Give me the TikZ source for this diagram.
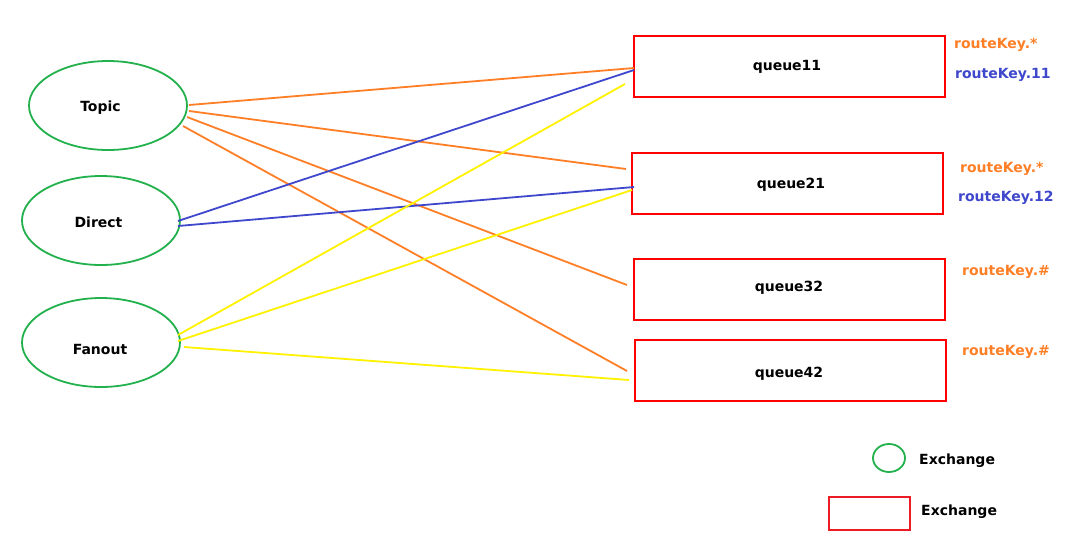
\documentclass[tikz,border=0pt]{standalone}
\usepackage{fontspec}
\setmainfont{DejaVu Sans}
\usetikzlibrary{shapes.geometric}
\definecolor{cgreen}{RGB}{34,177,76}
\definecolor{corange}{RGB}{255,127,39}
\definecolor{cblue}{RGB}{63,72,204}
\definecolor{cyellow}{RGB}{255,242,0}
\definecolor{cred}{RGB}{255,0,0}
\definecolor{cred2}{RGB}{237,28,36}
\begin{document}
\begin{tikzpicture}[x=1pt,y=-1pt,
  txt/.style={font=\bfseries\fontsize{14}{16}\selectfont,inner sep=0pt},
  exch/.style={ellipse,draw=cgreen,line width=1.8pt,minimum width=158pt,minimum height=89pt,inner sep=0pt},
  queue/.style={rectangle,draw=cred,line width=1.8pt,minimum width=311pt,minimum height=61pt,inner sep=0pt},
  key/.style={anchor=west,txt},
  link/.style={line width=1.8pt}]
\useasboundingbox[fill=white] (0,0) rectangle (1072,552);
% exchanges
\node[exch] (topic) at (108,105.5) {};
\node[exch] (direct) at (101,220.5) {};
\node[exch] (fanout) at (101,342.5) {};
\node[txt] (topict) at (100.5,108) {Topic};
\node[txt] (directt) at (98.5,222) {Direct};
\node[txt] (fanoutt) at (100,349) {Fanout};
% queues
\node[queue] (q11) at (789.5,66.5) {};
\node[queue] (q21) at (787.5,183.5) {};
\node[queue] (q32) at (789.5,289.5) {};
\node[queue] (q42) at (790.5,370.5) {};
\node[txt] (q11t) at (787,67) {queue11};
\node[txt] (q21t) at (791,185) {queue21};
\node[txt] (q32t) at (789,288) {queue32};
\node[txt] (q42t) at (789,374) {queue42};
% routing keys
\node[key,text=corange] (k1) at (954,45) {routeKey.*};
\node[key,text=cblue] (k2) at (955,75) {routeKey.11};
\node[key,text=corange] (k3) at (960,169) {routeKey.*};
\node[key,text=cblue] (k4) at (958,198) {routeKey.12};
\node[key,text=corange] (k5) at (962,272) {routeKey.\#};
\node[key,text=corange] (k6) at (962,352) {routeKey.\#};
% topic links
\draw[link,corange] ([shift={(81,-0.5)}]topic.center) -- ([shift={(-155.5,1.5)}]q11.center);
\draw[link,corange] ([shift={(81,5.5)}]topic.center) -- ([shift={(-161.5,-14.5)}]q21.center);
\draw[link,corange] ([shift={(79,11.5)}]topic.center) -- ([shift={(-162.5,-4.5)}]q32.center);
\draw[link,corange] ([shift={(75,20.5)}]topic.center) -- ([shift={(-163.5,0.5)}]q42.center);
% direct links
\draw[link,cblue] ([shift={(77,0.5)}]direct.center) -- ([shift={(-155.5,3.5)}]q11.center);
\draw[link,cblue] ([shift={(77,5.5)}]direct.center) -- ([shift={(-153.5,3.5)}]q21.center);
% fanout links
\draw[link,cyellow] ([shift={(77,-7.5)}]fanout.center) -- ([shift={(-164.5,17.5)}]q11.center);
\draw[link,cyellow] ([shift={(77,-1.5)}]fanout.center) -- ([shift={(-155.5,6.5)}]q21.center);
\draw[link,cyellow] ([shift={(83,4.5)}]fanout.center) -- ([shift={(-161.5,9.5)}]q42.center);
% legend
\node[ellipse,draw=cgreen,line width=1.8pt,minimum width=32pt,minimum height=28pt,inner sep=0pt] (lege) at (889,458) {};
\node[key] (legetxt) at (919,461) {Exchange};
\node[rectangle,draw=cred2,line width=1.8pt,minimum width=81pt,minimum height=33pt,inner sep=0pt] (legr) at (869.5,513.5) {};
\node[key] (legrtxt) at (921,512) {Exchange};
\end{tikzpicture}
\end{document}
